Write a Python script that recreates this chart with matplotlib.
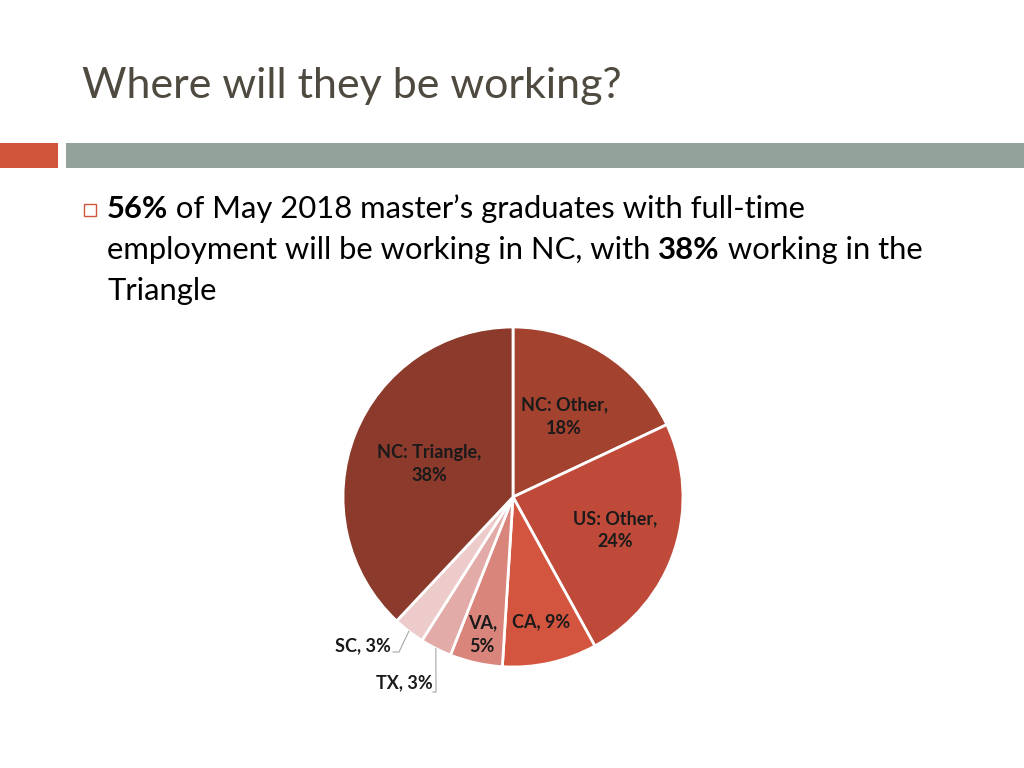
import matplotlib
matplotlib.use("Agg")
import matplotlib.pyplot as plt
import numpy as np

# ---- data ----
categories = ["NC: Other", "US: Other", "CA", "VA", "TX", "SC", "NC: Triangle"]
shares = [18, 24, 9, 5, 3, 3, 38]
colors = ["#A3422F", "#BF4A3A", "#D4553F", "#D9857B", "#E3ABA7", "#EDCBCA", "#8B3A2C"]
title = "Where will they be working?"

W, H = 1024, 768
fig = plt.figure(figsize=(W / 100, H / 100), dpi=100)
FONT = "Lato"

def fx(x):
    return x / W

def fy(y):
    return 1 - y / H

# title
fig.text(fx(82), fy(98), title, fontsize=31, color="#4F4A3F", family=FONT,
         va="baseline", ha="left")

# header bars
fig.patches.append(plt.Rectangle((fx(0), fy(168)), fx(58), 25 / H, transform=fig.transFigure,
                                 color="#D0553B", lw=0))
fig.patches.append(plt.Rectangle((fx(66), fy(168)), fx(W - 66), 25 / H, transform=fig.transFigure,
                                 color="#93A29A", lw=0))

# bullet square
fig.patches.append(plt.Rectangle((fx(84), fy(216)), 12 / W, 12 / H, transform=fig.transFigure,
                                 facecolor="none", edgecolor="#D0553B", lw=1))

# body text with bold fragments
lines = [
    [("56%", "bold"), (" of May 2018 master\u2019s graduates with full-time", "normal")],
    [("employment will be working in NC, with ", "normal"), ("38%", "bold"), (" working in the", "normal")],
    [("Triangle", "normal")],
]
baselines = [218, 259, 300]
fig.canvas.draw()
renderer = fig.canvas.get_renderer()
for parts, yb in zip(lines, baselines):
    x = 107
    for txt, wt in parts:
        t = fig.text(fx(x), fy(yb), txt, fontsize=22.3, family=FONT, weight=wt,
                     color="black", va="baseline", ha="left")
        bb = t.get_window_extent(renderer=renderer)
        x += bb.width

# pie
cx, cy, R = 513, 497, 170
ax = fig.add_axes([fx(cx - R), fy(cy + R), 2 * R / W, 2 * R / H])
wedges, _ = ax.pie(shares, colors=colors, startangle=90, counterclock=False,
                   wedgeprops=dict(edgecolor="white", linewidth=2), radius=1)
ax.set_xlim(-1, 1)
ax.set_ylim(-1, 1)
ax.axis("off")

LFS = 13
inside = {"NC: Other": 0.56, "US: Other": 0.63, "CA": 0.75, "VA": 0.83, "NC: Triangle": 0.53}
for w, cat, v in zip(wedges, categories, shares):
    mid = np.deg2rad((w.theta1 + w.theta2) / 2)
    if cat in inside:
        r = inside[cat]
        if cat == "CA":
            label = f"{cat}, {v}%"
        else:
            label = f"{cat},\n{v}%"
        ax.text(r * np.cos(mid), r * np.sin(mid), label, ha="center", va="center",
                fontsize=LFS, weight="bold", family=FONT, color="#1a1a1a", linespacing=1.45)

# outside labels with leader lines
def px2data(x, y):
    return ((x - cx) / R, (cy - y) / R)

for cat, v, w in zip(categories, shares, wedges):
    mid = np.deg2rad((w.theta1 + w.theta2) / 2)
    ex, ey = 1.0 * np.cos(mid), 1.0 * np.sin(mid)
    if cat == "SC":
        tx, ty = px2data(391, 646)
        ax.text(tx, ty, f"{cat}, {v}%", ha="right", va="center",
                fontsize=LFS, weight="bold", family=FONT, color="#1a1a1a")
        kx, ky = px2data(399, 652)
        sx, sy = px2data(393, 652)
        ax.plot([sx, kx, ex], [sy, ky, ey], color="#A6A6A6", lw=0.8, clip_on=False)
    elif cat == "TX":
        tx, ty = px2data(433, 683)
        ax.text(tx, ty, f"{cat}, {v}%", ha="right", va="center",
                fontsize=LFS, weight="bold", family=FONT, color="#1a1a1a")
        sx, sy = px2data(433, 692)
        kx, ky = px2data(436, 692)
        ax.plot([sx, kx, ex], [sy, ky, ey], color="#A6A6A6", lw=0.8, clip_on=False)

fig.savefig("out.png", dpi=100)
